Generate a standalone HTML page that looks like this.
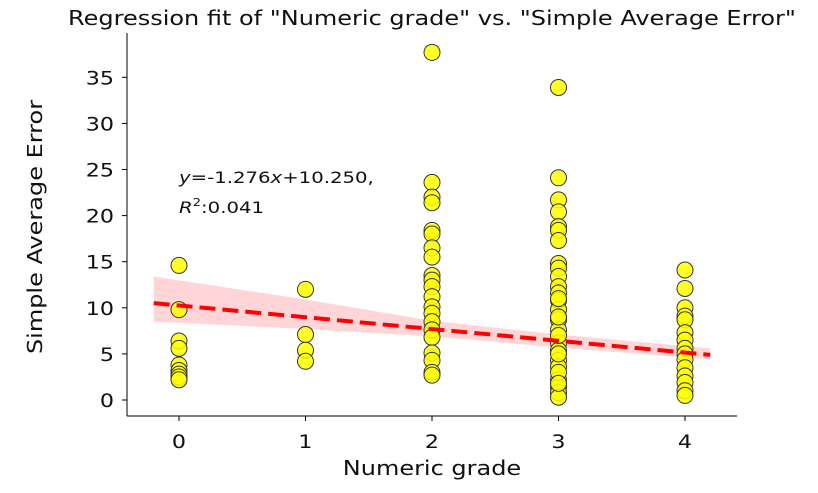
<!DOCTYPE html>
<html><head><meta charset="utf-8"><style>
body{margin:0;background:#fff;}
svg{font-family:"DejaVu Sans","Liberation Sans",sans-serif;}
</style></head><body>
<svg id="chart" width="818" height="488">
<g id="band"></g><g id="pts"></g><g id="line"></g><g id="axes"></g>
<g id="labels">
<text class="st" x="432" y="25" font-size="20" text-anchor="middle" fill="#111">Regression fit of "Numeric grade" vs. "Simple Average Error"</text>
<text class="st" x="432" y="475" font-size="20" text-anchor="middle" fill="#111">Numeric grade</text>
<text transform="translate(42,227) rotate(-90) scale(1.2,1)" x="0" y="0" font-size="20" text-anchor="middle" fill="#111">Simple Average Error</text>
<text class="st" x="179" y="183" font-size="16.4" fill="#111"><tspan font-style="italic">y</tspan>=-1.276<tspan font-style="italic">x</tspan>+10.250,</text>
<text class="st" x="179" y="213" font-size="16.4" fill="#111"><tspan font-style="italic">R</tspan><tspan font-size="11" dy="-7">2</tspan><tspan dy="7">:0.041</tspan></text>
</g>
</svg>
<script>
const xTicks=[0,1,2,3,4];
const yTicks=[0,5,10,15,20,25,30,35];
const grades=[0,0,0,0,0,0,0,0,0, 1,1,1,1,
2,2,2,2,2,2,2,2,2,2,2,2,2,2,2,2,2,2,2,2,2,
3,3,3,3,3,3,3,3,3,3,3,3,3,3,3,3,3,3,3,3,3,3,3,3,3,3,3,3,3,3,
4,4,4,4,4,4,4,4,4,4,4,4,4,4,4];
const errors=[14.6,9.8,6.4,5.6,3.8,3.2,2.8,2.5,2.2, 12,7.1,5.4,4.2,
37.7,23.6,22,21.4,18.4,18,16.5,15.5,13.5,13,12.3,11.2,10.1,9.4,8.5,7.6,6.8,5.1,4.3,3,2.7,
33.9,24.1,21.7,20.4,18.8,18.4,17.3,14.8,14.3,13.4,12.3,11.6,10.8,9.8,8.7,7.6,6.2,5.4,4.3,3.6,2.2,1.4,0.8,0.3,11,9,7,5,3,1.8,
14.1,12.1,10,9.1,8.7,7.3,6.5,5.6,5,4.4,3.5,2.6,1.9,1,0.5];
const slope=-1.276, intercept=10.25;
const bandX=[-0.2,1,2,3,4.2];
const bandLo=[8.5,7.7,6.9,5.7,4.4];
const bandHi=[13.4,10.9,8.6,7.1,5.6];
const NS='http://www.w3.org/2000/svg';
const SX=1.2;
const X=v=>179+v*126.5, Y=v=>400-v*9.22;
function mk(t,a,p){const e=document.createElementNS(NS,t);for(const k in a)e.setAttribute(k,a[k]);document.getElementById(p).appendChild(e);return e;}
function stretch(e){const x=+e.getAttribute('x');e.setAttribute('transform','translate('+x+',0) scale('+SX+',1) translate('+(-x)+',0)');}
let d='M'+bandX.map((x,i)=>X(x)+','+Y(bandHi[i])).join('L')+'L'+bandX.slice().reverse().map((x,i)=>X(x)+','+Y(bandLo[bandX.length-1-i])).join('L')+'Z';
const b=mk('path',{d:d,fill:'#ffb3b8','fill-opacity':0.55},'band');


grades.forEach((g,i)=>{const c=mk('circle',{cx:X(g),cy:Y(errors[i]),r:8,fill:'#ffff00','fill-opacity':0.85,stroke:'#333','stroke-width':1},'pts');

});
const l=mk('line',{x1:X(-0.2),y1:Y(intercept+slope*-0.2),x2:X(4.2),y2:Y(intercept+slope*4.2),stroke:'#ff0000','stroke-width':4,'stroke-dasharray':'16,7'},'line');


const s1=mk('line',{x1:127,y1:33,x2:127,y2:416,stroke:'#000','stroke-width':1},'axes');


const s2=mk('line',{x1:127,y1:416,x2:737,y2:416,stroke:'#000','stroke-width':1},'axes');


xTicks.forEach(v=>{mk('line',{x1:X(v),y1:416,x2:X(v),y2:421,stroke:'#000'},'axes');
const t=mk('text',{x:X(v),y:448,'font-size':18.5,'text-anchor':'middle',fill:'#111'},'axes');t.textContent=v;stretch(t);

});
yTicks.forEach(v=>{mk('line',{x1:122,y1:Y(v),x2:127,y2:Y(v),stroke:'#000'},'axes');
const t=mk('text',{x:114,y:Y(v)+7,'font-size':18.5,'text-anchor':'end',fill:'#111'},'axes');t.textContent=v;stretch(t);

});
document.querySelectorAll('text.st').forEach(stretch);
</script>
</body></html>
